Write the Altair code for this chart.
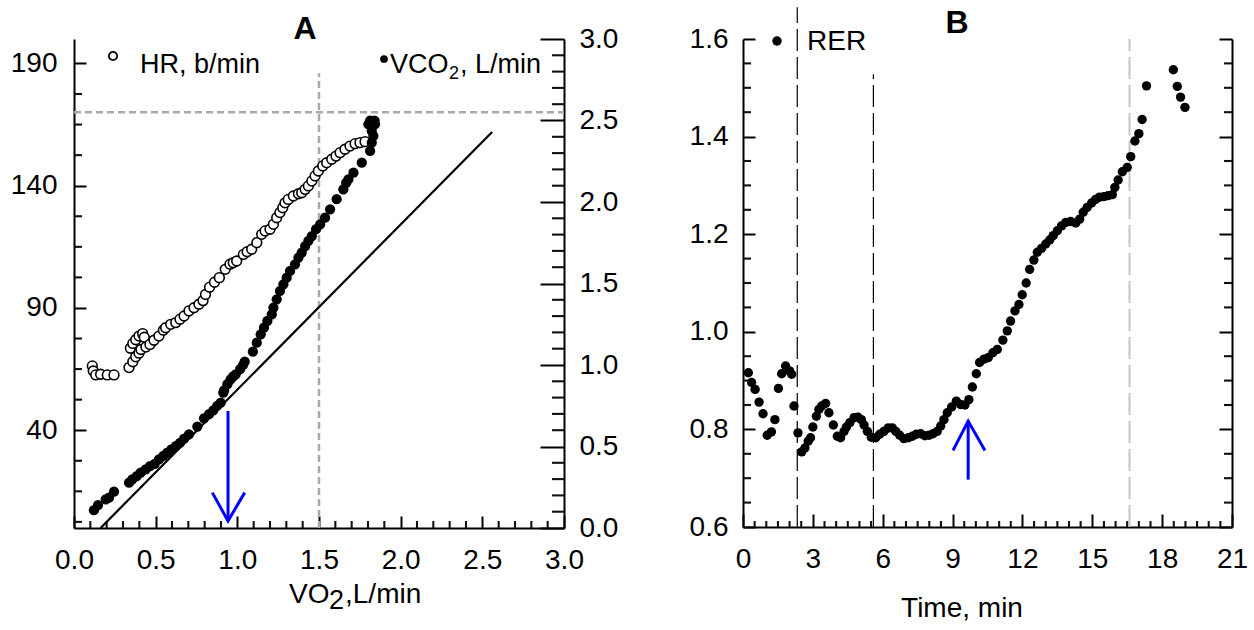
import altair as alt
import pandas as pd
import numpy as np

FONT = "Liberation Sans"

# ---------------- Panel A data ----------------
hr_vo2 = [0.112, 0.118, 0.133, 0.163, 0.204, 0.245, 0.337, 0.345, 0.36, 0.378,
          0.398, 0.42, 0.43, 0.36, 0.378, 0.398, 0.41, 0.44, 0.465, 0.49,
          0.52, 0.547, 0.561, 0.592, 0.623, 0.649, 0.674, 0.704, 0.735, 0.765,
          0.79, 0.805, 0.83, 0.86, 0.89, 0.926, 0.955, 0.975, 0.996, 1.037,
          1.06, 1.088, 1.119, 1.149, 1.17, 1.2, 1.221, 1.241, 1.261, 1.278,
          1.292, 1.312, 1.343, 1.374, 1.394, 1.415, 1.435, 1.456, 1.476, 1.496,
          1.523, 1.547, 1.578, 1.604, 1.629, 1.659, 1.69, 1.721, 1.751, 1.782]
hr_bpm = [66.3, 64.2, 62.6, 62.9, 62.6, 62.6, 65.6, 73.5, 75.5, 77,
          78.5, 79.5, 78, 68, 70, 71.5, 73, 74, 75.1, 76.8,
          78.5, 80.9, 81.9, 83.3, 84, 85.4, 86.7, 88.8, 90.1, 91.5,
          93, 95.5, 98.5, 100.5, 102.4, 105.8, 107.9, 108.5, 109.2, 111.9,
          113, 114, 116.7, 120.1, 121.5, 122.2, 124.2, 126.9, 129, 131,
          133, 134.4, 135.8, 136.7, 137.1, 138.5, 139.9, 141.9, 144, 146,
          148.1, 149.4, 150.8, 152.1, 153.5, 154.9, 156.2, 157.2, 157.6, 158]

vco2_vo2 = [0.122, 0.147, 0.194, 0.214, 0.245, 0.337, 0.357, 0.384, 0.408, 0.439,
            0.465, 0.494, 0.52, 0.547, 0.571, 0.596, 0.623, 0.649, 0.674, 0.704,
            0.755, 0.796, 0.827, 0.853, 0.877, 0.898, 0.914, 0.919, 0.939, 0.959,
            0.975, 0.99, 1.017, 1.035, 1.045, 1.095, 1.119, 1.143, 1.163, 1.184,
            1.211, 1.221, 1.241, 1.261, 1.282, 1.302, 1.323, 1.353, 1.374, 1.394,
            1.415, 1.435, 1.456, 1.482, 1.507, 1.537, 1.568, 1.608, 1.649, 1.666,
            1.68, 1.711, 1.762, 1.813, 1.823, 1.833, 1.823, 1.802, 1.843, 1.813,
            1.84]
vco2_lmin = [0.109, 0.141, 0.176, 0.186, 0.223, 0.278, 0.299, 0.319, 0.339, 0.36,
             0.38, 0.394, 0.421, 0.442, 0.462, 0.483, 0.503, 0.523, 0.548, 0.575,
             0.622, 0.673, 0.698, 0.722, 0.75, 0.769, 0.83, 0.845, 0.882, 0.912,
             0.93, 0.943, 0.974, 1.0, 1.02, 1.082, 1.137, 1.188, 1.229, 1.27,
             1.311, 1.352, 1.403, 1.454, 1.495, 1.536, 1.577, 1.618, 1.658, 1.689,
             1.73, 1.761, 1.791, 1.833, 1.863, 1.904, 1.955, 2.017, 2.078, 2.118,
             2.139, 2.18, 2.241, 2.313, 2.364, 2.405, 2.436, 2.477, 2.477, 2.5,
             2.5]

# reference line (VO2, VCO2)
ref_line_x = [0.163, 2.56]
ref_line_y = [0.0, 2.43]
# grey dashed guides: VO2 = 1.5, HRmax = 170
guide_vo2 = 1.5
guide_hr = 170
# blue arrow A (shaft and head), in VO2 / VCO2 units
arrowA_x = [0.943, 0.943, 0.847, 0.943, 1.045]
arrowA_y = [0.718, 0.043, 0.217, 0.043, 0.217]
arrowA_g = [0, 0, 1, 1, 1]

# ---------------- Panel B data ----------------
rer_t = [0.23, 0.37, 0.52, 0.69, 0.86, 1.04, 1.22, 1.37, 1.52, 1.66,
         1.83, 2.0, 2.09, 2.19, 2.36, 2.52, 2.66, 2.8, 2.9, 3.0,
         3.15, 3.26, 3.38, 3.55, 3.69, 3.88, 4.05, 4.19, 4.34, 4.44,
         4.59, 4.77, 4.94, 5.08, 5.2, 5.34, 5.51, 5.7, 5.87, 6.05,
         6.24, 6.41, 6.56, 6.73, 6.91, 7.1, 7.27, 7.44, 7.63, 7.81,
         7.99, 8.16, 8.34, 8.49, 8.63, 8.77, 8.96, 9.16, 9.34, 9.53,
         9.7, 9.85, 10.02, 10.16, 10.35, 10.53, 10.73, 10.92, 11.16, 11.35,
         11.49, 11.68, 11.85, 11.99, 12.16, 12.31, 12.49, 12.64, 12.82, 13.0,
         13.17, 13.32, 13.5, 13.68, 13.86, 14.07, 14.29, 14.46, 14.61, 14.78,
         14.97, 15.14, 15.31, 15.5, 15.68, 15.86, 15.97, 16.11, 16.29, 16.5,
         16.65, 16.83, 17.0, 17.14, 17.33, 18.48, 18.65, 18.79, 18.98]
rer_val = [0.916, 0.896, 0.882, 0.856, 0.832, 0.788, 0.795, 0.82, 0.884, 0.914,
           0.93, 0.92, 0.913, 0.848, 0.793, 0.754, 0.762, 0.776, 0.783, 0.805,
           0.827, 0.841, 0.848, 0.853, 0.834, 0.809, 0.786, 0.783, 0.796, 0.805,
           0.814, 0.824, 0.825, 0.82, 0.809, 0.796, 0.784, 0.783, 0.79, 0.796,
           0.803, 0.803, 0.796, 0.788, 0.781, 0.783, 0.786, 0.79, 0.791, 0.787,
           0.788, 0.791, 0.796, 0.807, 0.82, 0.834, 0.846, 0.858, 0.851, 0.85,
           0.861, 0.887, 0.914, 0.937, 0.944, 0.947, 0.957, 0.964, 0.983, 1.002,
           1.022, 1.043, 1.056, 1.076, 1.1, 1.128, 1.147, 1.163, 1.171, 1.18,
           1.188, 1.197, 1.207, 1.217, 1.224, 1.226, 1.223, 1.231, 1.245, 1.255,
           1.264, 1.271, 1.276, 1.277, 1.279, 1.281, 1.296, 1.311, 1.328, 1.337,
           1.359, 1.391, 1.406, 1.435, 1.504, 1.537, 1.503, 1.481, 1.46]

# phase boundaries (min): black dashed, black dashed, grey dashed
phase_t = [2.33, 5.6, 16.6]
phase_top = [1.665, 1.528, 1.6]
phase_color = ["black", "black", "#c4c4c4"]
phase_width = [1.2, 1.2, 2.0]
# blue arrow B
arrowB_x = [9.67, 9.67, 9.02, 9.67, 10.39]
arrowB_y = [0.697, 0.817, 0.757, 0.817, 0.757]
arrowB_g = [0, 0, 1, 1, 1]

# ---------------- sizes ----------------
WA, HA = 490, 489
WB, HB = 489, 488

BLUE = "#0000ff"
TICK = "#111111"


def label(s, x, y, size=28, bold=False, align="left", baseline="alphabetic"):
    return alt.Chart(pd.DataFrame({"s": [s]})).mark_text(
        align=align, baseline=baseline, fontSize=size, font=FONT,
        fontWeight="bold" if bold else "normal", color="black"
    ).encode(x=alt.value(x), y=alt.value(y), text="s:N")


def ax(values, orient, gap, tick, fmt=None, labels=True, domain=True):
    # major ticks point into the plot (negative size); label offset compensates
    kw = dict(values=values, grid=False, orient=orient, domain=domain, domainColor="black",
              domainWidth=2, ticks=True, tickSize={"expr": str(-tick)}, tickColor="black",
              tickWidth=2, labels=labels, labelFontSize=28, labelFont=FONT,
              labelColor="black", labelPadding=gap + tick, labelFlush=False, title=None)
    if fmt:
        kw["format"] = fmt
    return alt.Axis(**kw)


def split(vals, step):
    major = [v for v in vals if abs(v / step - round(v / step)) < 1e-6]
    minor = [v for v in vals if v not in major]
    return major, minor


def tick_df(groups):
    """groups: (positions, which axis direction, start, end) -> two-point segments."""
    rows = []
    gid = 0
    for vals, along, a0, a1 in groups:
        for v in vals:
            if along == "y":
                rows.append({"x": a0, "y": v, "g": gid, "o": 0})
                rows.append({"x": a1, "y": v, "g": gid, "o": 1})
            else:
                rows.append({"x": v, "y": a0, "g": gid, "o": 0})
                rows.append({"x": v, "y": a1, "g": gid, "o": 1})
            gid += 1
    return pd.DataFrame(rows)


def tick_layer(df, xenc, yenc):
    return alt.Chart(df).mark_line(color=TICK, strokeWidth=2.1).encode(
        x=xenc, y=yenc, detail="g:N", order="o:Q")


# ================= Panel A =================
sxA = alt.Scale(domain=[0, 3], nice=False, zero=False)
syL = alt.Scale(domain=[0, 200], nice=False, zero=False)
syR = alt.Scale(domain=[0, 3], nice=False, zero=False)

axAx = ax([0, 0.5, 1, 1.5, 2, 2.5, 3], "bottom", 18, 12, ".1f")
axL = ax([40, 90, 140, 190], "left", 17, 12)
axR = ax([0, 0.5, 1, 1.5, 2, 2.5, 3], "right", 15, 24, ".1f")


def XA(f="x"):
    return alt.X(f"{f}:Q", scale=sxA, axis=axAx)


def YL(f="y"):
    return alt.Y(f"{f}:Q", scale=syL, axis=axL)


def YR(f="y"):
    return alt.Y(f"{f}:Q", scale=syR, axis=axR)


pxA = WA / 3.0
pyR = HA / 3.0

a_bottom = [round(float(v), 2) for v in np.arange(0, 3.001, 0.1)]
a_bottom_major, a_bottom_minor = split(a_bottom, 0.5)
a_left = [2.5 + 12.5 * k for k in range(16)]
a_left_minor = [v for v in a_left if v not in (40.0, 90.0, 140.0, 190.0)]
a_right = [round(float(v), 2) for v in np.arange(0, 3.001, 0.1)]
a_right_major, a_right_minor = split(a_right, 0.5)

ticksA_left = tick_df([(a_left_minor, "y", 0, 8 / pxA)])
ticksA_right = tick_df([(a_right_minor, "y", 3 - 12 / pxA, 3),
                        (a_bottom_minor, "x", 0, 7 / pyR)])

guide_v = alt.Chart(pd.DataFrame({"x": [guide_vo2], "y": [0], "y2": [186]})).mark_rule(
    color="#a9a9a9", strokeWidth=2.5, strokeDash=[7, 4]).encode(x=XA(), y=YL(), y2="y2:Q")
guide_h = alt.Chart(pd.DataFrame({"x": [0], "x2": [3], "y": [guide_hr]})).mark_rule(
    color="#a9a9a9", strokeWidth=2.5, strokeDash=[7, 4]).encode(x=XA(), x2="x2:Q", y=YL())

hr_pts = alt.Chart(pd.DataFrame({"x": hr_vo2, "y": hr_bpm})).mark_point(
    shape="circle", filled=True, fill="white", stroke="black", strokeWidth=1.6, size=95, opacity=1
).encode(x=XA(), y=YL())

left_group = alt.layer(tick_layer(ticksA_left, XA(), YL()), guide_v, guide_h, hr_pts)

ref_line = alt.Chart(pd.DataFrame({"x": ref_line_x, "y": ref_line_y})).mark_line(
    color="black", strokeWidth=2.2).encode(x=XA(), y=YR())
vco2_pts = alt.Chart(pd.DataFrame({"x": vco2_vo2, "y": vco2_lmin})).mark_circle(
    color="black", size=105, opacity=1).encode(x=XA(), y=YR())
arrowA = alt.Chart(pd.DataFrame({"x": arrowA_x, "y": arrowA_y, "g": arrowA_g,
                                 "o": list(range(len(arrowA_x)))})).mark_line(
    color=BLUE, strokeWidth=3).encode(x=XA(), y=YR(), detail="g:N", order="o:Q")

right_group = alt.layer(
    tick_layer(ticksA_right, XA(), YR()),
    ref_line, vco2_pts, arrowA,
    # legend
    alt.Chart(pd.DataFrame({"a": [0]})).mark_point(shape="circle", stroke="black", strokeWidth=1.8,
                                                    size=70, fill="white", filled=True, opacity=1
                                                    ).encode(x=alt.value(39), y=alt.value(17)),
    label("HR, b/min", 66, 34, 27),
    alt.Chart(pd.DataFrame({"a": [0]})).mark_circle(color="black", size=60, opacity=1
                                                     ).encode(x=alt.value(310), y=alt.value(20)),
    label("VCO", 316, 34, 27),
    label("2", 375, 40, 18),
    label(", L/min", 386, 34, 27),
    # axis title
    label("VO", 215, 564, 28),
    label("2", 255, 570, 27),
    label(",L/min", 271, 564, 28),
    # panel title
    label("A", 231, 0, 32, bold=True, align="center"),
)

panelA = alt.layer(left_group, right_group).resolve_scale(y="independent").properties(
    width=WA, height=HA)

# ================= Panel B =================
sxB = alt.Scale(domain=[0, 21], nice=False, zero=False)
syB = alt.Scale(domain=[0.6, 1.6], nice=False, zero=False)
syB2 = alt.Scale(domain=[0.6, 1.6], nice=False, zero=False)
axBx = ax([0, 3, 6, 9, 12, 15, 18, 21], "bottom", 18, 13)
axBy = ax([0.6, 0.8, 1.0, 1.2, 1.4, 1.6], "left", 15, 12, ".1f")
axBr = ax([0.6, 0.8, 1.0, 1.2, 1.4, 1.6], "right", 10, 13, labels=False)


def XB(f="x"):
    return alt.X(f"{f}:Q", scale=sxB, axis=axBx)


def YB(f="y"):
    return alt.Y(f"{f}:Q", scale=syB, axis=axBy)


def YB2(f="y"):
    return alt.Y(f"{f}:Q", scale=syB2, axis=axBr)


pxB = WB / 21.0
pyB = HB / 1.0

b_bottom = [round(float(v), 2) for v in np.arange(0, 21.001, 0.5)]
b_bottom_major, b_bottom_minor = split(b_bottom, 3)
b_side = [round(float(v), 2) for v in np.arange(0.6, 1.6001, 0.05)]
b_side_major, b_side_minor = split(b_side, 0.2)

ticksB = tick_df([
    (b_side_minor, "y", 0, 8 / pxB),
    (b_bottom_minor, "x", 0.6, 0.6 + 6 / pyB),
])
ticksB_right = tick_df([(b_side_minor, "y", 21 - 8 / pxB, 21)])

phase_layers = []
for t, top, c, w in zip(phase_t, phase_top, phase_color, phase_width):
    phase_layers.append(
        alt.Chart(pd.DataFrame({"x": [t], "y": [0.6], "y2": [top]})).mark_rule(
            color=c, strokeWidth=w, strokeDash=[22, 6]).encode(x=XB(), y=YB(), y2="y2:Q"))

rer_pts = alt.Chart(pd.DataFrame({"x": rer_t, "y": rer_val})).mark_circle(
    color="black", size=88, opacity=1).encode(x=XB(), y=YB())
arrowB = alt.Chart(pd.DataFrame({"x": arrowB_x, "y": arrowB_y, "g": arrowB_g,
                                 "o": list(range(len(arrowB_x)))})).mark_line(
    color=BLUE, strokeWidth=3).encode(x=XB(), y=YB(), detail="g:N", order="o:Q")

mainB = alt.layer(
    tick_layer(ticksB, XB(), YB()),
    *phase_layers,
    rer_pts, arrowB,
    alt.Chart(pd.DataFrame({"a": [0]})).mark_circle(color="black", size=90, opacity=1
                                                     ).encode(x=alt.value(34), y=alt.value(2)),
    label("RER", 64, 11, 28),
    label("Time, min", 219, HB + 90, 28, align="center"),
    label("B", 214, -6, 32, bold=True, align="center"),
)
rightB = tick_layer(ticksB_right, XB(), YB2())

panelB = alt.layer(mainB, rightB).resolve_scale(y="independent").properties(
    width=WB, height=HB)

chart = alt.hconcat(panelA, panelB, spacing=71).properties(
    padding={"left": 10, "top": 6, "right": 5, "bottom": 5}
).configure_view(stroke=None)

chart.save("out.html", embed_options={"renderer": "svg", "actions": False})
